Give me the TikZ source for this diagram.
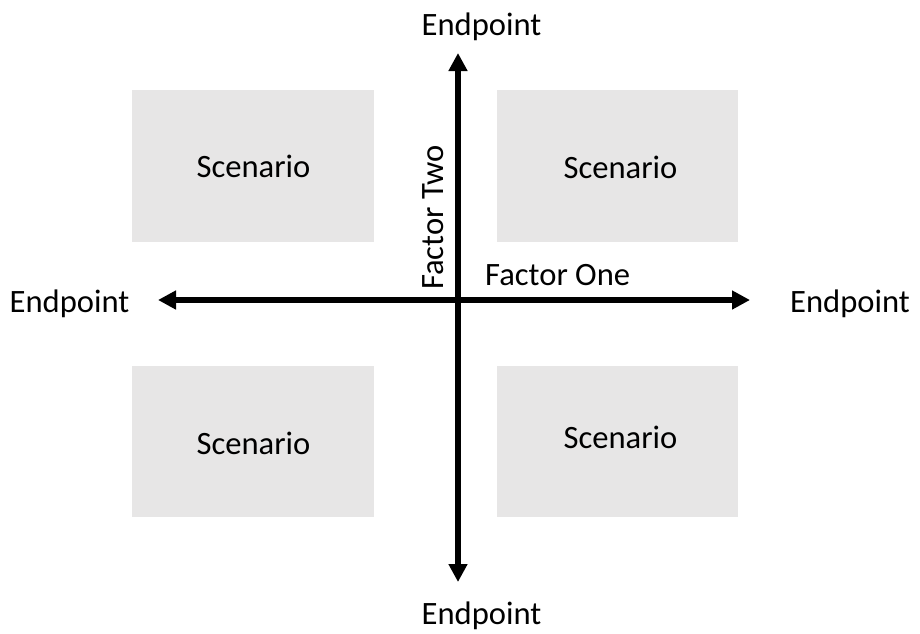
\documentclass[tikz,border=0pt]{standalone}
\usepackage{fontspec}
\setmainfont{Carlito}
\usetikzlibrary{arrows.meta}
\definecolor{panelgray}{HTML}{E7E6E6}
\tikzset{
  panel/.style={fill=panelgray, draw=none},
  lbl/.style={inner sep=0pt, font=\fontsize{32.6}{38}\selectfont, text=black},
  axis/.style={line width=6pt, {Triangle[length=18pt,width=18pt]}-{Triangle[length=18pt,width=18pt]}}
}
\begin{document}
\begin{tikzpicture}[x=1pt, y=-1pt]
  \useasboundingbox (0,0) rectangle (920,633);

  % four scenario panels
  \fill[panel] (132,90) rectangle (374,242);
  \fill[panel] (497,90) rectangle (738,242);
  \fill[panel] (132,366) rectangle (374,517);
  \fill[panel] (497,366) rectangle (738,517);

  \node[lbl, anchor=base] (s1) at (253.5,177) {Scenario};
  \node[lbl, anchor=base] (s2) at (620.5,178) {Scenario};
  \node[lbl, anchor=base] (s3) at (253.5,454) {Scenario};
  \node[lbl, anchor=base] (s4) at (620.5,448) {Scenario};

  % axis end points
  \coordinate (west) at (158,300);
  \coordinate (east) at (750,300);
  \coordinate (north) at (458,53);
  \coordinate (south) at (458,582);

  \draw[axis] (west) -- (east);
  \draw[axis] (south) -- (north);

  % end point labels
  \node[lbl, anchor=base] (eN) at (481.5,35) {Endpoint};
  \node[lbl, anchor=base] (eS) at (481.5,624) {Endpoint};
  \node[lbl, anchor=base] (eW) at (69.5,312) {Endpoint};
  \node[lbl, anchor=base] (eE) at (850,312) {Endpoint};

  % axis titles
  \node[lbl, anchor=base west] (f1) at (485,285) {Factor One};
  \node[lbl, anchor=base west, rotate=90] (f2) at (443,290) {Factor Two};
\end{tikzpicture}
\end{document}
